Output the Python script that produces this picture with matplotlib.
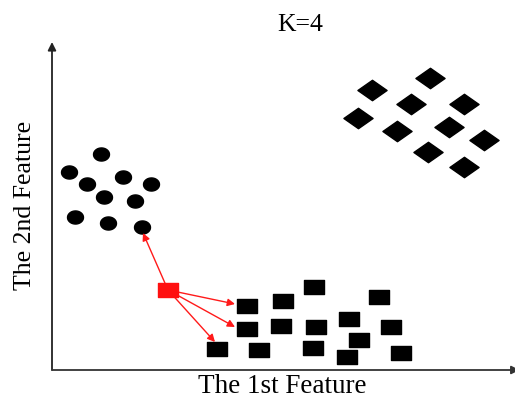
import numpy as np
import matplotlib.pyplot as plt
from matplotlib.path import Path

# feature values (origin = axes corner)
circ_x = [17, 49, 35, 71, 99, 52, 83, 23, 56, 90]
circ_y = [198, 216, 186, 193, 186, 173, 169, 153, 147, 143]

diam_x = [320, 378, 359, 412, 306, 345, 397, 432, 376, 412]
diam_y = [280, 292, 266, 266, 252, 239, 243, 230, 218, 203]

sq_x = [195, 231, 262, 327, 195, 229, 264, 297, 339, 307, 165, 207, 261, 295, 349]
sq_y = [64, 69, 83, 73, 41, 44, 43, 51, 43, 30, 21, 20, 22, 13, 17]

query = (116, 80)
# arrow tips of the k=4 nearest neighbours
nn_x = [91, 183, 183, 163]
nn_y = [137, 66, 43, 28]

W, H = 515, 399
fig = plt.figure(figsize=(W / 100, H / 100), dpi=100)
x0, y0, x1, y1 = 52, 370, 515, 42   # pixel corners of the axes
ax = fig.add_axes([x0 / W, (H - y0) / H, (x1 - x0) / W, (y0 - y1) / H])
ax.set_xlim(0, x1 - x0)
ax.set_ylim(0, y0 - y1)
ax.axis('off')

# marker shapes
t = np.linspace(0, 2 * np.pi, 40)
ellipse = Path(np.column_stack([np.cos(t), 0.82 * np.sin(t)]), closed=True)
diamond = Path([(-1, 0), (0, 0.7), (1, 0), (0, -0.7), (-1, 0)], closed=True)
rect = Path([(-1, -0.65), (1, -0.65), (1, 0.65), (-1, 0.65), (-1, -0.65)], closed=True)

ax.plot(circ_x, circ_y, ls='none', marker=ellipse, ms=11.5, color='black')
ax.plot(diam_x, diam_y, ls='none', marker=diamond, ms=21, color='black')
ax.plot(sq_x, sq_y, ls='none', marker=rect, ms=14.5, color='black')

for tx, ty in zip(nn_x, nn_y):
    ax.annotate('', xy=(tx, ty), xytext=query,
                arrowprops=dict(arrowstyle='-|>', color='#ff1a1a', lw=1.0,
                                mutation_scale=11, shrinkA=0, shrinkB=0))
ax.plot([query[0]], [query[1]], ls='none', marker=rect, ms=14.5, color='#ff1010', zorder=5)

# axis arrows
ax.annotate('', xy=(0, 1), xytext=(0, 0), xycoords='axes fraction',
            arrowprops=dict(arrowstyle='-|>', color='#222222', lw=1.3,
                            mutation_scale=12, shrinkA=0, shrinkB=0))
ax.annotate('', xy=(1.01, 0), xytext=(0, 0), xycoords='axes fraction',
            arrowprops=dict(arrowstyle='-|>', color='#333333', lw=1.3,
                            mutation_scale=12, shrinkA=0, shrinkB=0))

serif = 'Liberation Serif'
fig.text(300 / W, (H - 31) / H, 'K=4', family=serif, fontsize=18.5,
         ha='center', va='baseline')
fig.text(282 / W, (H - 393) / H, 'The 1st Feature', family=serif, fontsize=19.5,
         ha='center', va='baseline')
fig.text(25 / W, (H - 205) / H, 'The 2nd Feature', family=serif, fontsize=18.5,
         ha='center', va='center', rotation=90)

fig.savefig('out.png', dpi=100)
